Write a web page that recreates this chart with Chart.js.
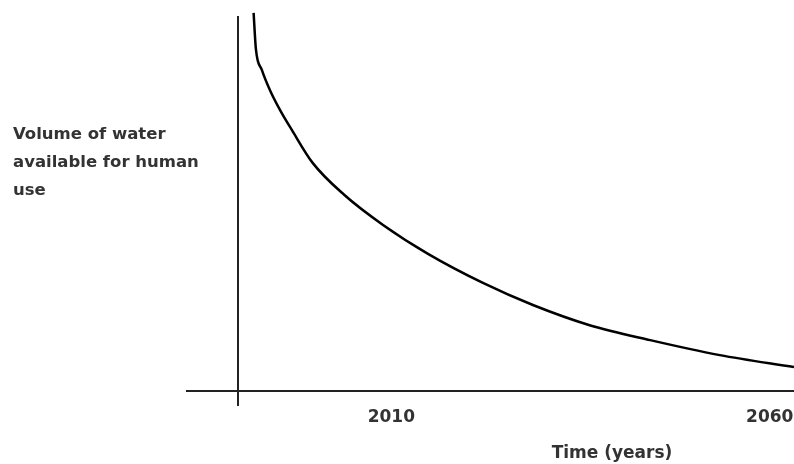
<!DOCTYPE html>
<html>
<head>
<meta charset="utf-8">
<script src="https://cdn.jsdelivr.net/npm/chart.js@4.4.1/dist/chart.umd.min.js"></script>
<style>
  html, body { margin: 0; padding: 0; background: #ffffff; }
  #wrap { position: relative; width: 794px; height: 464px; }
  canvas { display: block; }
</style>
</head>
<body>
<div id="wrap"><canvas id="c" width="794" height="464"></canvas></div>
<script>
// ---- data ----
const years = [1991.8, 1992.1, 1992.9, 1993.95, 1995.3, 1996.85, 1999.6, 2003.8, 2008.9, 2014.9, 2022.1, 2028.7, 2036.2, 2044.2, 2053.4, 2063.2];
const waterVolume = [101.1, 91.5, 85.8, 80.5, 75.1, 69.8, 61.0, 52.4, 44.4, 36.6, 28.9, 23.0, 17.6, 13.6, 9.6, 6.4];
const xTickLabels = [2010, 2060];
const yAxisYear = 1989.7;
const xLabel = 'Time (years)';
const yLabelLines = ['Volume of water', 'available for human', 'use'];

const points = years.map((x, i) => ({ x: x, y: waterVolume[i] }));

const textPlugin = {
  id: 'axisText',
  afterDraw(chart) {
    const ctx = chart.ctx;
    ctx.save();
    ctx.fillStyle = '#333333';
    ctx.textAlign = 'left';
    ctx.textBaseline = 'alphabetic';
    ctx.font = 'bold 16.5px "DejaVu Sans"';
    const base = [139, 167, 195];
    yLabelLines.forEach((t, i) => ctx.fillText(t, 13, base[i]));
    ctx.font = 'bold 17px "DejaVu Sans"';
    ctx.textAlign = 'center';
    ctx.fillText(xLabel, 612, 458);
    ctx.restore();
  }
};

new Chart(document.getElementById('c'), {
  type: 'line',
  data: {
    datasets: [{
      data: points,
      borderColor: '#000000',
      borderWidth: 2.5,
      pointRadius: 0,
      fill: false,
      cubicInterpolationMode: 'monotone',
      clip: false
    }]
  },
  options: {
    responsive: false,
    animation: false,
    devicePixelRatio: 1,
    layout: { padding: { left: 187, top: 17, right: 0, bottom: 59 } },
    plugins: { legend: { display: false }, tooltip: { enabled: false }, title: { display: false } },
    scales: {
      x: {
        type: 'linear',
        min: 1983,
        max: 2063.2,
        position: { y: 0 },
        grid: { display: false, drawTicks: false },
        border: { display: true, color: '#222222', width: 2 },
        afterBuildTicks: (scale) => { scale.ticks = xTickLabels.map(v => ({ value: v })); },
        afterFit: (scale) => { scale.paddingLeft = 0; scale.paddingRight = 0; },
        ticks: {
          autoSkip: false,
          maxRotation: 0,
          padding: 16,
          color: '#333333',
          font: { family: 'DejaVu Sans', size: 17, weight: 'bold' },
          callback: (v) => String(v)
        }
      },
      y: {
        type: 'linear',
        min: -3.74,
        max: 100,
        position: { x: yAxisYear },
        grid: { display: false, drawTicks: false },
        border: { display: true, color: '#222222', width: 2 },
        ticks: { display: false }
      }
    }
  },
  plugins: [textPlugin]
});
</script>
</body>
</html>
